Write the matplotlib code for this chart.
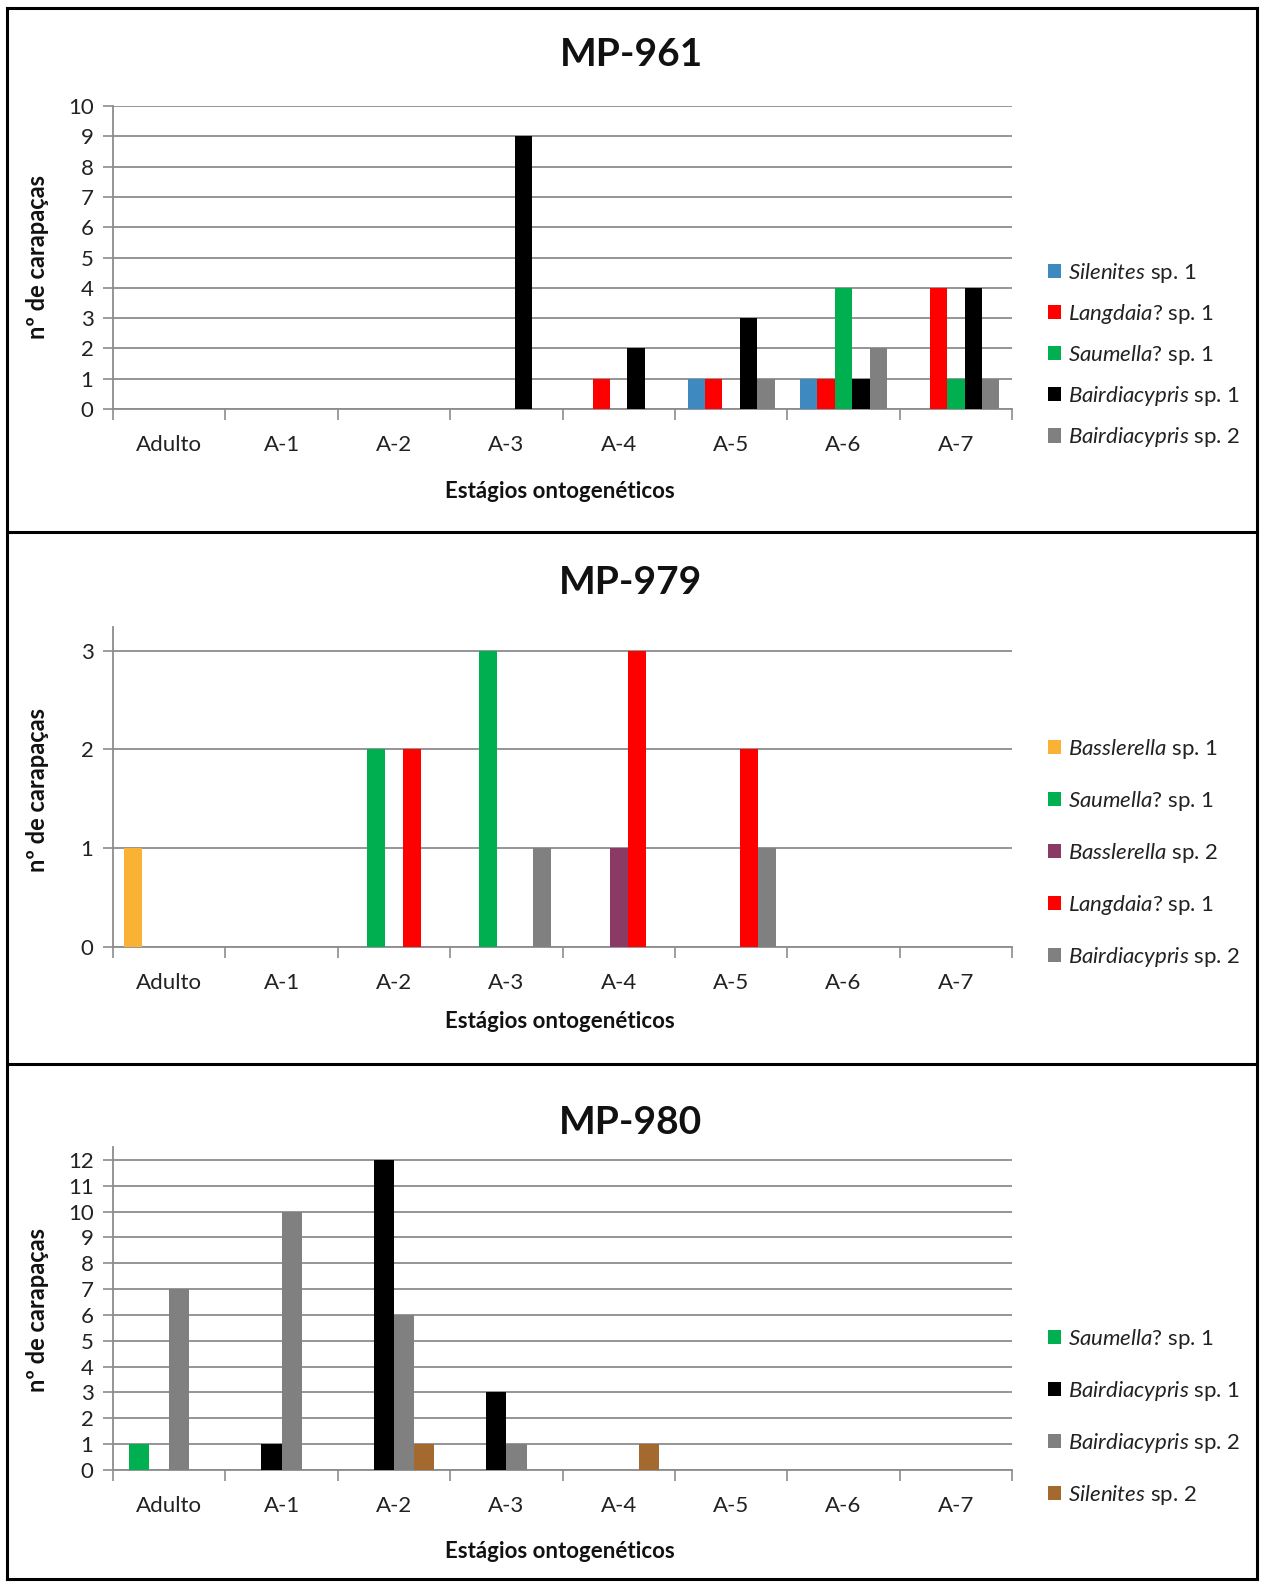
import matplotlib
matplotlib.use("Agg")
import matplotlib.pyplot as plt
from matplotlib.patches import Patch
from matplotlib.lines import Line2D
import numpy as np

plt.rcParams["font.family"] = ["Lato", "DejaVu Sans"]
plt.rcParams["mathtext.fontset"] = "custom"
plt.rcParams["mathtext.rm"] = "Lato"
plt.rcParams["mathtext.it"] = "Lato:italic"

# ── Data ──────────────────────────────────────────────────────────
stages = ["Adulto", "A-1", "A-2", "A-3", "A-4", "A-5", "A-6", "A-7"]

# MP-961
mp961_names = [r"$\mathit{Silenites}$ sp. 1", r"$\mathit{Langdaia}$? sp. 1",
               r"$\mathit{Saumella}$? sp. 1", r"$\mathit{Bairdiacypris}$ sp. 1",
               r"$\mathit{Bairdiacypris}$ sp. 2"]
mp961_silenites1 = [0, 0, 0, 0, 0, 1, 1, 0]
mp961_langdaia1 = [0, 0, 0, 0, 1, 1, 1, 4]
mp961_saumella1 = [0, 0, 0, 0, 0, 0, 4, 1]
mp961_bairdia1 = [0, 0, 0, 9, 2, 3, 1, 4]
mp961_bairdia2 = [0, 0, 0, 0, 0, 1, 2, 1]

# MP-979
mp979_names = [r"$\mathit{Basslerella}$ sp. 1", r"$\mathit{Saumella}$? sp. 1",
               r"$\mathit{Basslerella}$ sp. 2", r"$\mathit{Langdaia}$? sp. 1",
               r"$\mathit{Bairdiacypris}$ sp. 2"]
mp979_basslerella1 = [1, 0, 0, 0, 0, 0, 0, 0]
mp979_saumella1 = [0, 0, 2, 3, 0, 0, 0, 0]
mp979_basslerella2 = [0, 0, 0, 0, 1, 0, 0, 0]
mp979_langdaia1 = [0, 0, 2, 0, 3, 2, 0, 0]
mp979_bairdia2 = [0, 0, 0, 1, 0, 1, 0, 0]

# MP-980
mp980_names = [r"$\mathit{Saumella}$? sp. 1", r"$\mathit{Bairdiacypris}$ sp. 1",
               r"$\mathit{Bairdiacypris}$ sp. 2", r"$\mathit{Silenites}$ sp. 2"]
mp980_saumella1 = [1, 0, 0, 0, 0, 0, 0, 0]
mp980_bairdia1 = [0, 1, 12, 3, 0, 0, 0, 0]
mp980_bairdia2 = [7, 10, 6, 1, 0, 0, 0, 0]
mp980_silenites2 = [0, 0, 1, 0, 1, 0, 0, 0]

# ── Colours ───────────────────────────────────────────────────────
BLUE = "#3E89BF"
RED = "#FF0000"
GREEN = "#00B050"
BLACK = "#000000"
GRAY = "#808080"
ORANGE = "#F9B233"
PURPLE = "#8B3A66"
BROWN = "#A3692F"
GRID = "#8C8C8C"

W, H = 1261, 1582
fig = plt.figure(figsize=(W / 100, H / 100), dpi=100)


def px_rect(x0, x1, ytop, ybot):
    return [x0 / W, 1 - ybot / H, (x1 - x0) / W, (ybot - ytop) / H]


def draw_panel(rect, title, title_base, series, names, colors, ymax, ytop,
               bar_w, leg_y, leg_space, xlab_base, ylab_center):
    ax = fig.add_axes(rect)
    x = np.arange(len(stages))
    n = len(series)
    for i, (vals, col) in enumerate(zip(series, colors)):
        ax.bar(x + (i - (n - 1) / 2) * bar_w, vals, bar_w, color=col,
               linewidth=0, zorder=3)

    ax.set_xlim(-0.5, len(stages) - 0.5)
    ax.set_ylim(0, ytop)
    ax.set_yticks(range(0, ymax + 1))
    ax.yaxis.grid(True, color=GRID, linewidth=1.3, zorder=0)
    ax.set_axisbelow(True)

    ax.set_xticks(x)
    ax.set_xticklabels(stages, fontsize=16, color="#222222")
    ax.set_xticks(np.arange(-0.5, len(stages)), minor=True)
    ax.tick_params(axis="x", which="major", length=0, pad=19)
    ax.tick_params(axis="x", which="minor", length=8, width=1.2, color=GRID)
    ax.tick_params(axis="y", length=7, width=1.2, color=GRID, pad=7,
                   labelsize=16, labelcolor="#222222")

    for s in ["top", "right"]:
        ax.spines[s].set_visible(False)
    for s in ["left", "bottom"]:
        ax.spines[s].set_color(GRID)
        ax.spines[s].set_linewidth(1.3)

    handles = [Patch(facecolor=c, edgecolor="none") for c in colors]
    ax.legend(handles, names, loc="center left", bbox_to_anchor=(1.04, leg_y),
              frameon=False, fontsize=16, borderpad=0, borderaxespad=0,
              handlelength=0.6, handleheight=0.6, handletextpad=0.3,
              labelspacing=leg_space, labelcolor="#222222")

    fig.text(631 / W, 1 - title_base / H, title, fontsize=28, fontweight="bold",
             ha="center", va="baseline", color="#111111")
    fig.text(560 / W, 1 - xlab_base / H, "Estágios ontogenéticos", fontsize=16,
             fontweight="bold", ha="center", va="baseline", color="#111111")
    fig.text(38 / W, 1 - ylab_center / H, "nº de carapaças", fontsize=17,
             fontweight="bold", rotation=90, ha="center", va="center",
             color="#111111")
    return ax


draw_panel(px_rect(113, 1012, 106, 409), "MP-961", 66,
           [mp961_silenites1, mp961_langdaia1, mp961_saumella1,
            mp961_bairdia1, mp961_bairdia2],
           mp961_names, [BLUE, RED, GREEN, BLACK, GRAY],
           10, 10, 0.155, 0.178, 0.77, 498, 257)

draw_panel(px_rect(113, 1012, 627, 947), "MP-979", 594,
           [mp979_basslerella1, mp979_saumella1, mp979_basslerella2,
            mp979_langdaia1, mp979_bairdia2],
           mp979_names, [ORANGE, GREEN, PURPLE, RED, GRAY],
           3, 3.24, 0.16, 0.294, 1.26, 1028, 790)

draw_panel(px_rect(113, 1012, 1147, 1470), "MP-980", 1134,
           [mp980_saumella1, mp980_bairdia1, mp980_bairdia2, mp980_silenites2],
           mp980_names, [GREEN, BLACK, GRAY, BROWN],
           12, 12.5, 0.18, 0.164, 1.26, 1558, 1310)

# ── Panel borders ────────────────────────────────────────────────
def hline(y, x0=7, x1=1257):
    fig.add_artist(Line2D([x0 / W, x1 / W], [1 - y / H, 1 - y / H],
                          color="black", linewidth=2.2))


def vline(x, y0=8, y1=1579):
    fig.add_artist(Line2D([x / W, x / W], [1 - y0 / H, 1 - y1 / H],
                          color="black", linewidth=2.2))


for y in [8, 532, 1064, 1579]:
    hline(y)
for x in [7, 1257]:
    vline(x)

fig.savefig("out.png", dpi=100, facecolor="white")
